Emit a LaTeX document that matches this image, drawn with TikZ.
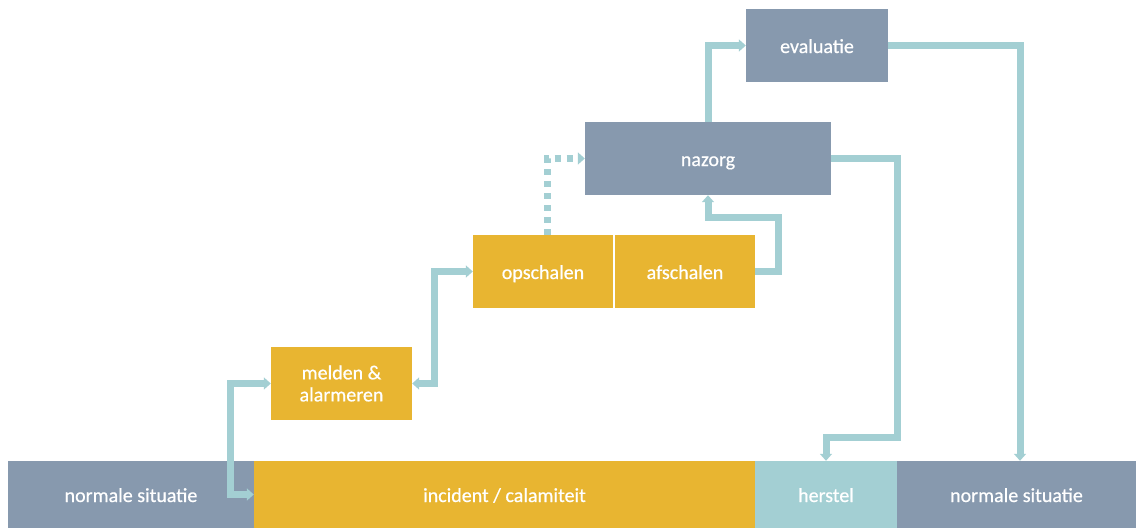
\documentclass[tikz,border=0pt]{standalone}
\usepackage{fontspec}
\setmainfont[FakeBold=0.6]{Carlito}
\usetikzlibrary{arrows.meta}
\definecolor{slate}{HTML}{8799AE}
\definecolor{amber}{HTML}{E8B531}
\definecolor{aqua}{HTML}{A3CFD3}
\begin{document}
\begin{tikzpicture}[x=1pt,y=-1pt,
  box/.style={inner sep=0pt, text=white, align=center,
    font=\fontsize{20}{22}\selectfont, text height=15pt, text depth=0pt},
  slatebox/.style={box, fill=slate},
  amberbox/.style={box, fill=amber},
  aquabox/.style={box, fill=aqua},
  tip/.tip={Triangle[length=7pt,width=12pt]},
  conn/.style={draw=aqua, line width=7pt, line join=miter},
  flow/.style={conn, -tip},
  twoway/.style={conn, tip-tip},
  hint/.style={conn, -tip, dash pattern=on 6pt off 6pt}]
\useasboundingbox (0,0) rectangle (1136,528);

% timeline along the bottom
\node[slatebox, minimum width=246pt, minimum height=67pt] (ns1) at (131,494.5) {normale situatie};
\node[amberbox, minimum width=501pt, minimum height=67pt] (inc) at (504.5,494.5) {incident / calamiteit};
\node[aquabox, minimum width=142pt, minimum height=67pt] (herstel) at (826,494.5) {herstel};
\node[slatebox, minimum width=239pt, minimum height=67pt] (ns2) at (1016.5,494.5) {normale situatie};

% process steps
\node[amberbox, minimum width=141pt, minimum height=73pt, text height=, text depth=] (melden) at (341.5,383.5) {melden \&\\alarmeren};
\node[amberbox, minimum width=140pt, minimum height=73pt] (op) at (543,271.5) {opschalen};
\node[amberbox, minimum width=140pt, minimum height=73pt] (af) at (685,271.5) {afschalen};
\node[slatebox, minimum width=246pt, minimum height=73pt] (nazorg) at (708,158.5) {nazorg};
\node[slatebox, minimum width=142pt, minimum height=73pt] (eval) at (817,45.5) {evaluatie};

% connectors
\draw[twoway] (melden.west) -| ([xshift=-23pt]inc.west) -- (inc.west);
\draw[twoway] (op.west) -- ++(-38,0) |- (melden.east);
\draw[hint] ([xshift=4pt]op.north) |- (nazorg.west);
\draw[flow] (af.east) -- ++(23,0) -- ++(0,-54.5) -| (nazorg.south);
\draw[flow] (nazorg.east) -- ++(66,0) |- ([yshift=23pt]herstel.north) -- (herstel.north);
\draw[flow] (nazorg.north) |- (eval.west);
\draw[flow] (eval.east) -| ([xshift=3.5pt]ns2.north);
\end{tikzpicture}
\end{document}
